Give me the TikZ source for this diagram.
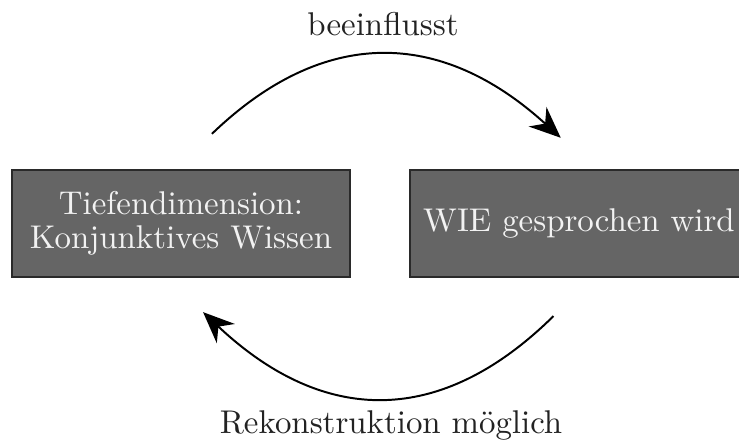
\documentclass[tikz,border=0pt]{standalone}
\usepackage{tikz}
\usetikzlibrary{arrows.meta, positioning}

\definecolor{boxgray}{HTML}{656565}
\definecolor{boxline}{HTML}{2A2A2A}
\definecolor{boxtext}{HTML}{F2F2F2}
\definecolor{labeltext}{HTML}{222222}

\begin{document}
\begin{tikzpicture}[
            x = 0.304pt, y = -0.304pt, % pixel grid of the figure
            > = {Stealth[length=9.5pt, width=8pt]}, % arrow head style
            semithick % line style
        ]

        \tikzstyle{box}=[
            draw = boxline,
            thick,
            fill = boxgray,
            text = boxtext,
            align = center,
            font = \fontsize{10}{10.2}\selectfont,
            minimum width = 102.7pt,
            minimum height = 32.5pt
        ]
        \tikzstyle{label}=[
            text = labeltext
        ]

        \useasboundingbox (0,0) rectangle (739,445);
        \clip (0,0) rectangle (739,445);

        \node[box] (tief) at (181,223.5) {Tiefendimension:\\Konjunktives Wissen};
        \node[box] (wie) at (579,223.5) {WIE gesprochen wird};

        % start and end points of the two arcs
        \coordinate[above=10.6pt of tief.north, xshift=9.4pt] (t1);
        \coordinate[above=9.4pt of wie.north west, xshift=46.2pt] (w1);
        \coordinate[below=11.5pt of wie.south west, xshift=44pt] (w2);
        \coordinate[below=10.3pt of tief.south, xshift=6.7pt] (t2);

        \draw[->] (t1) .. controls (323,27) and (440,28) .. (w1);
        \draw[->] (w2) .. controls (441,427) and (324,426) .. (t2);

        \node[label] (oben) at (383,24.5) {beeinflusst};
        \node[label] (unten) at (391,425) {Rekonstruktion möglich};
    \end{tikzpicture}
\end{document}
